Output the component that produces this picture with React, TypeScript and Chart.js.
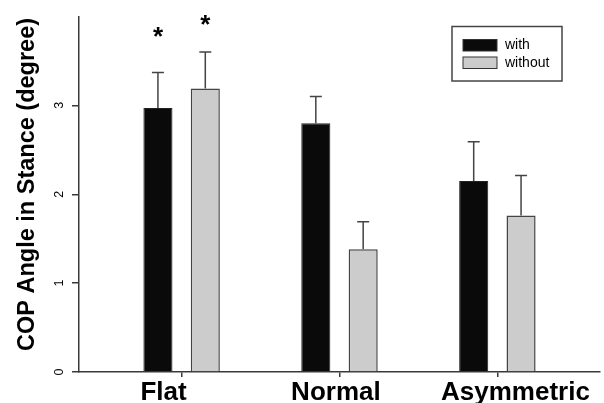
import React, { useEffect, useRef } from "react";
import { Chart, registerables } from "chart.js";

Chart.register(...registerables);

const categories = ["Flat", "Normal", "Asymmetric"];
const categoryLabels = ["Flat     ", "Normal ", "     Asymmetric"];
const seriesLabels = ["with", "without"];
const withValues = [2.97, 2.8, 2.15];
const withoutValues = [3.19, 1.38, 1.76];
const withErrors = [0.4, 0.3, 0.44];
const withoutErrors = [0.41, 0.31, 0.45];
const yTicks = [0, 1, 2, 3];
const yTitle = "   COP Angle in Stance (degree)";
const starDataset = [0, 1];
const starIndex = [0, 0];
const starValue = [3.78, 3.92];

const FONT = '"Liberation Sans", Arial, sans-serif';
const AXIS_COLOR = "#3a3a3a";

const errorBarPlugin = {
  id: "errorBars",
  afterDatasetsDraw(chart: any) {
    const ctx = chart.ctx;
    const yScale = chart.scales.y;
    const errs = [withErrors, withoutErrors];
    chart.data.datasets.forEach((ds: any, di: number) => {
      const meta = chart.getDatasetMeta(di);
      meta.data.forEach((bar: any, i: number) => {
        const v = ds.data[i].y;
        const top = yScale.getPixelForValue(v + errs[di][i]);
        const base = yScale.getPixelForValue(v);
        ctx.save();
        ctx.strokeStyle = "#444";
        ctx.lineWidth = 1.5;
        ctx.beginPath();
        ctx.moveTo(bar.x, base);
        ctx.lineTo(bar.x, top);
        ctx.moveTo(bar.x - 6, top);
        ctx.lineTo(bar.x + 6, top);
        ctx.stroke();
        ctx.restore();
      });
    });
    // significance stars
    ctx.save();
    ctx.fillStyle = "#000";
    ctx.font = `bold 26px ${FONT}`;
    ctx.textAlign = "center";
    ctx.textBaseline = "alphabetic";
    starDataset.forEach((d, k) => {
      const bar = chart.getDatasetMeta(d).data[starIndex[k]];
      const cy = yScale.getPixelForValue(starValue[k]);
      ctx.fillText("*", bar.x, cy + 9);
    });
    ctx.restore();
  },
};

const boxLegendPlugin = {
  id: "boxLegend",
  afterDraw(chart: any) {
    const ctx = chart.ctx;
    const area = chart.chartArea;
    const bx = area.right - 148;
    const by = area.top + 10;
    const bw = 110;
    const bh = 54.5;
    ctx.save();
    ctx.strokeStyle = "#444";
    ctx.lineWidth = 1.5;
    ctx.strokeRect(bx, by, bw, bh);
    chart.data.datasets.forEach((ds: any, i: number) => {
      const sy = by + 13 + i * 17.5;
      ctx.fillStyle = ds.backgroundColor;
      ctx.fillRect(bx + 11, sy, 34, 11.5);
      ctx.strokeStyle = "#333";
      ctx.lineWidth = 1;
      ctx.strokeRect(bx + 11, sy, 34, 11.5);
      ctx.fillStyle = "#000";
      ctx.font = `14px ${FONT}`;
      ctx.textAlign = "left";
      ctx.textBaseline = "middle";
      ctx.fillText(ds.label, bx + 53, sy + 6);
    });
    ctx.restore();
  },
};

export default function App() {
  const canvasRef = useRef<HTMLCanvasElement | null>(null);

  useEffect(() => {
    document.body.style.margin = "0";
    const canvas = canvasRef.current;
    if (!canvas) return;
    const chart = new Chart(canvas, {
      type: "bar",
      data: {
        datasets: [
          {
            label: seriesLabels[0],
            data: withValues.map((v, i) => ({ x: i + 1, y: v })),
            backgroundColor: "#0a0a0a",
            borderColor: "#222",
            borderWidth: 1,
          },
          {
            label: seriesLabels[1],
            data: withoutValues.map((v, i) => ({ x: i + 1, y: v })),
            backgroundColor: "#cccccc",
            borderColor: "#444",
            borderWidth: 1.5,
          },
        ],
      },
      options: {
        animation: false,
        responsive: true,
        maintainAspectRatio: false,
        categoryPercentage: 0.6,
        barPercentage: 0.614,
        layout: { padding: { top: 13, right: 4, left: 0, bottom: 0 } },
        plugins: {
          legend: { display: false },
          tooltip: { enabled: false },
        },
        scales: {
          x: {
            type: "linear",
            min: 0.35,
            max: 3.65,
            offset: false,
            afterBuildTicks: (scale: any) => {
              scale.ticks = categories.map((_, i) => ({ value: i + 1 }));
            },
            afterFit: (scale: any) => {
              scale.height = 31;
            },
            grid: {
              display: true,
              offset: false,
              drawOnChartArea: false,
              drawTicks: true,
              tickLength: 5,
              color: AXIS_COLOR,
              lineWidth: 1.5,
            },
            border: { display: true, color: AXIS_COLOR, width: 1.5 },
            ticks: {
              padding: 0,
              maxRotation: 0,
              autoSkip: false,
              color: "#000",
              font: { family: FONT, size: 26, weight: "bold" },
              callback: (v: any) => categoryLabels[Number(v) - 1] ?? "",
            },
          },
          y: {
            type: "linear",
            min: 0,
            max: 4,
            afterBuildTicks: (scale: any) => {
              scale.ticks = yTicks.map((v) => ({ value: v }));
            },
            afterFit: (scale: any) => {
              scale.width = 79;
            },
            grid: {
              display: true,
              drawOnChartArea: false,
              drawTicks: true,
              tickLength: 7,
              color: AXIS_COLOR,
              lineWidth: 1.5,
            },
            border: { display: true, color: AXIS_COLOR, width: 1.5 },
            ticks: {
              minRotation: 90,
              maxRotation: 90,
              crossAlign: "center",
              padding: 9,
              color: "#000",
              font: { family: FONT, size: 12.5 },
            },
            title: {
              display: true,
              text: yTitle,
              color: "#000",
              font: { family: FONT, size: 23.5, weight: "bold" },
              padding: { top: 13, bottom: 0 },
            },
          },
        },
      },
      plugins: [errorBarPlugin, boxLegendPlugin],
    } as any);
    return () => chart.destroy();
  }, []);

  return (
    <div style={{ position: "relative", width: 604, height: 403 }}>
      <canvas ref={canvasRef} />
    </div>
  );
}
